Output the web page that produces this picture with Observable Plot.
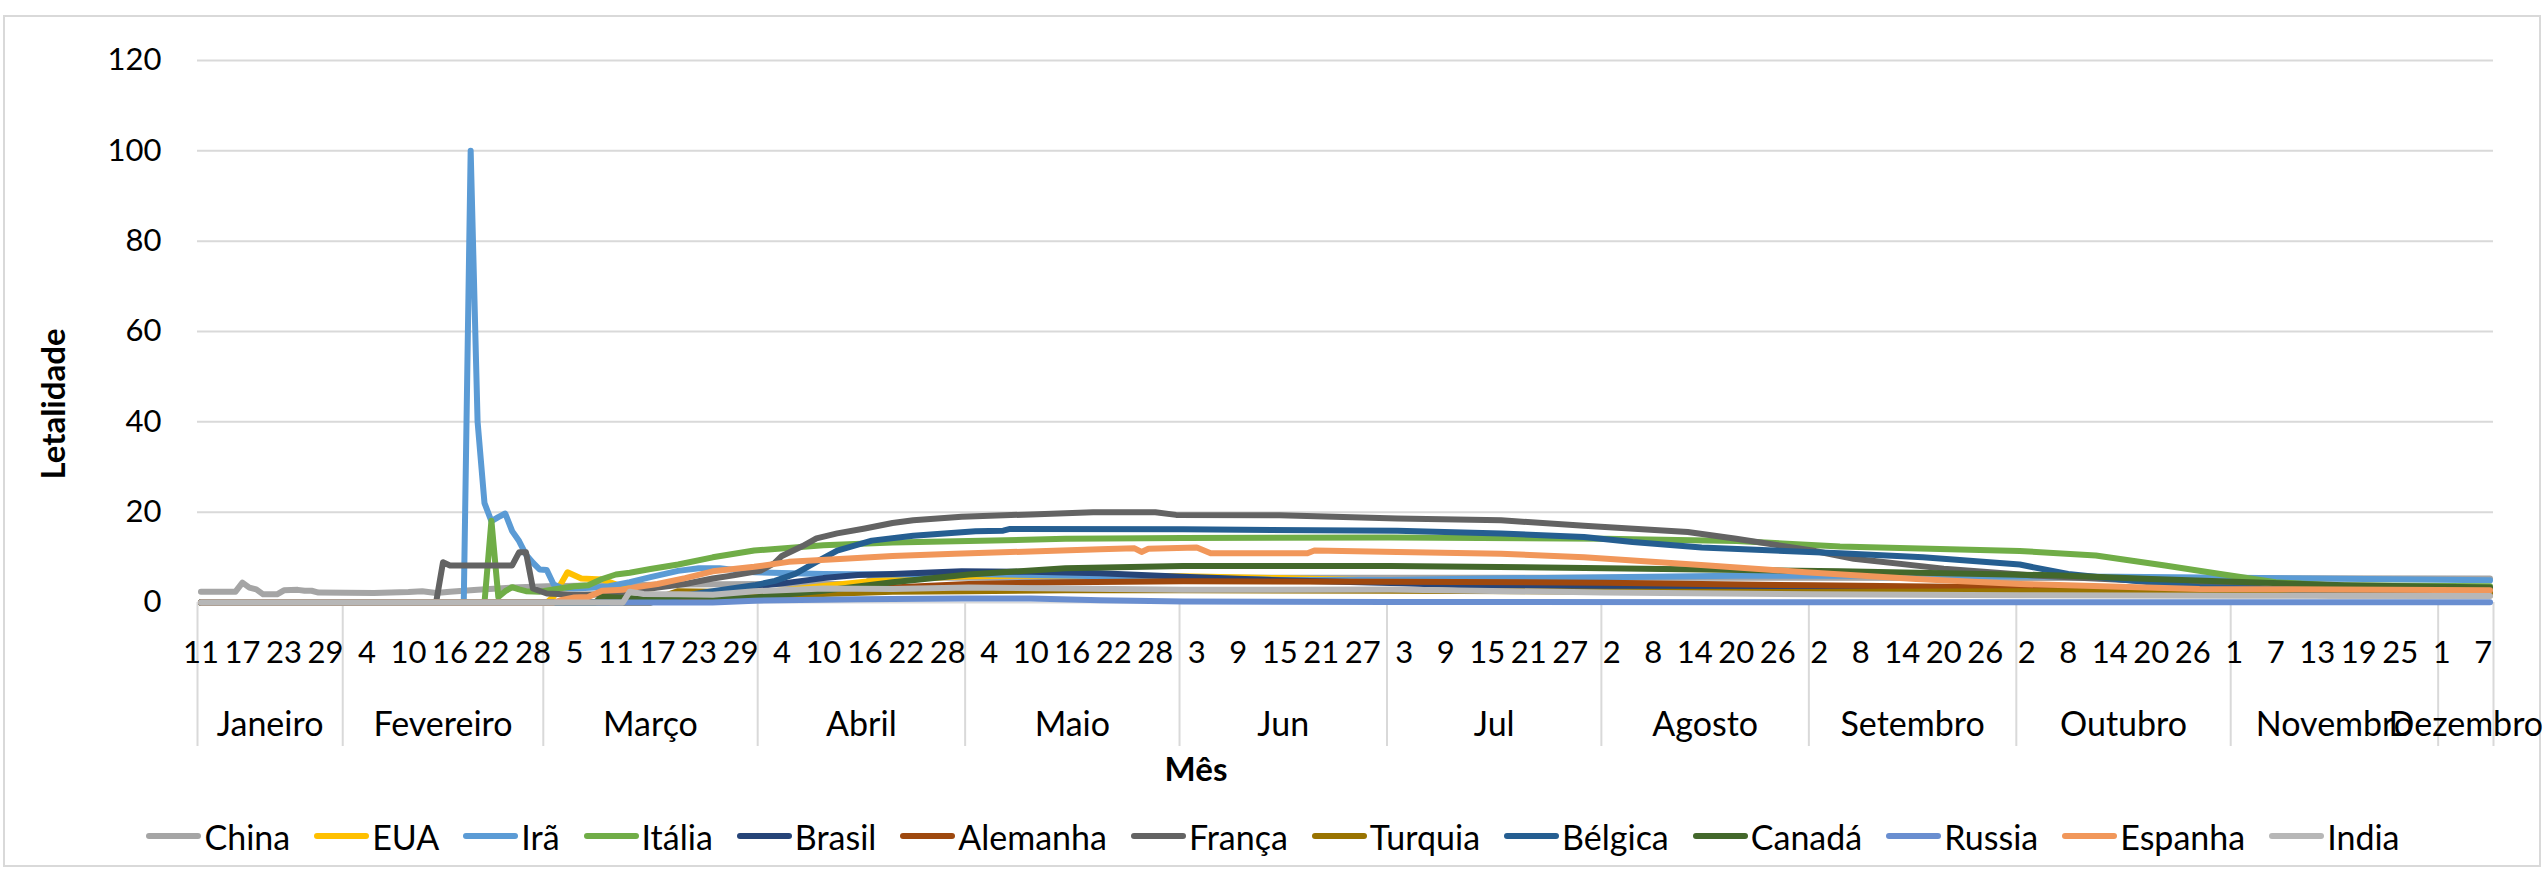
<!DOCTYPE html>
<html><head><meta charset="utf-8">
<script src="https://cdn.jsdelivr.net/npm/d3@7"></script>
<script src="https://cdn.jsdelivr.net/npm/@observablehq/plot@0.6"></script>
<style>
html,body{margin:0;padding:0;background:#fff;}
#chart{position:relative;width:2546px;height:871px;font-family:Lato,sans-serif;overflow:hidden;color:#000;}
#border{position:absolute;left:3px;top:15px;width:2538px;height:852px;border:2px solid #d9d9d9;box-sizing:border-box;}
#plot{position:absolute;left:0;top:0;}
.title{position:absolute;font-weight:bold;font-size:33px;white-space:nowrap;}
#ytitle{left:52px;top:404px;transform:translate(-50%,-50%) rotate(-90deg);}
#xtitle{left:1196px;top:768px;transform:translate(-50%,-50%);}
#legend{position:absolute;left:0;top:814px;width:2546px;height:44px;display:flex;justify-content:center;align-items:center;font-size:34px;}
.item{display:flex;align-items:center;margin:0 12px;}
.sw{display:inline-block;width:55px;height:6px;border-radius:3px;margin-right:3px;}
</style></head>
<body><div id="chart"><div id="border"></div><div id="plot"></div>
<div id="ytitle" class="title">Letalidade</div>
<div id="xtitle" class="title">Mês</div>
<div id="legend"></div></div>
<script>
const countries = ["China","EUA","Irã","Itália","Brasil","Alemanha","França","Turquia","Bélgica","Canadá","Russia","Espanha","India"];
const colors = ["#A5A5A5","#FFC000","#5B9BD5","#70AD47","#264478","#9E480E","#636363","#997300","#255E91","#43682B","#698ED0","#F1975A","#B7B7B7"];
const monthNames = ["Janeiro","Fevereiro","Março","Abril","Maio","Jun","Jul","Agosto","Setembro","Outubro","Novembro","Dezembro"];
const monthLengths = [21,29,31,30,31,30,31,30,30,31,30,8];
const monthFirstDay = [11,1,1,1,1,1,1,1,1,1,1,1];
const dayTickLabels = [11,17,23,29, 4,10,16,22,28, 5,11,17,23,29, 4,10,16,22,28, 4,10,16,22,28, 3,9,15,21,27, 3,9,15,21,27, 2,8,14,20,26, 2,8,14,20,26, 2,8,14,20,26, 1,7,13,19,25, 1,7];
const yTicks = [0,20,40,60,80,100,120];

const china = [["01-11",2.4],["01-16",2.4],["01-17",4.4],["01-18",3.3],["01-19",2.9],["01-20",1.8],["01-22",1.8],["01-23",2.7],["01-25",2.8],["01-26",2.6],["01-27",2.6],["01-28",2.2],["02-05",2.1],["02-10",2.3],["02-12",2.5],["02-14",2.1],["02-16",2.4],["02-20",2.8],["02-25",3.3],["03-01",3.6],["03-10",3.8],["03-20",4.0],["04-01",4.1],["04-16",4.1],["04-17",5.5],["05-01",5.5],["06-01",5.5],["08-01",5.5],["10-01",5.4],["12-08",5.3]];
const eua = [["01-11",0],["03-01",0],["03-02",1.3],["03-04",6.7],["03-06",5.3],["03-09",5.1],["03-11",4.0],["03-13",3.0],["03-15",1.9],["03-18",1.5],["03-22",1.3],["03-26",1.5],["04-01",2.2],["04-06",3.0],["04-11",3.8],["04-16",4.6],["04-21",5.2],["05-01",5.8],["05-15",6.0],["06-01",5.8],["06-15",5.4],["07-01",4.8],["07-15",4.0],["08-01",3.4],["09-01",3.0],["10-01",2.8],["11-01",2.5],["12-08",1.9]];
const ira = [["01-11",0],["02-18",0],["02-19",100],["02-20",40],["02-21",22],["02-22",18],["02-23",18.9],["02-24",19.7],["02-25",15.8],["02-26",13.6],["02-27",10.6],["02-28",8.8],["02-29",7.3],["03-01",7.2],["03-02",4.0],["03-03",3.3],["03-05",3.1],["03-08",3.3],["03-10",3.6],["03-13",4.5],["03-16",5.6],["03-20",7.0],["03-23",7.6],["03-26",7.6],["03-31",6.7],["04-10",6.3],["04-20",6.2],["05-01",6.3],["05-15",6.0],["06-01",5.4],["06-15",5.0],["07-01",5.0],["07-15",5.3],["08-01",5.6],["08-20",5.9],["09-15",5.9],["10-15",5.7],["11-01",5.5],["11-20",5.2],["12-08",4.9]];
const italia = [["01-11",0],["02-21",0],["02-22",18.1],["02-23",1.2],["02-24",2.5],["02-25",3.4],["02-26",2.9],["02-27",2.5],["02-29",2.4],["03-02",2.9],["03-05",3.6],["03-07",3.8],["03-09",5.2],["03-11",6.2],["03-13",6.6],["03-16",7.4],["03-20",8.4],["03-25",10.0],["03-31",11.5],["04-10",12.7],["04-20",13.3],["05-01",13.6],["05-15",14.1],["06-01",14.3],["07-01",14.4],["08-01",14.1],["08-20",13.6],["09-05",12.4],["10-01",11.4],["10-12",10.4],["10-22",8.2],["10-30",6.3],["11-07",4.5],["11-15",3.8],["12-08",3.6]];
const brasil = [["01-11",0],["03-16",0],["03-17",0.3],["03-20",1.2],["03-25",2.3],["03-31",3.5],["04-05",4.4],["04-10",5.4],["04-15",6.1],["04-20",6.3],["04-30",6.9],["05-10",6.8],["05-20",6.5],["06-01",5.7],["06-15",4.9],["07-01",4.3],["07-17",3.6],["08-01",3.4],["09-01",3.1],["10-01",3.0],["11-01",2.9],["12-08",2.7]];
const alemanha = [["01-11",0],["03-08",0],["03-09",0.2],["03-20",0.3],["03-25",0.5],["03-31",1.1],["04-05",1.6],["04-10",2.2],["04-15",2.7],["04-20",3.3],["05-01",4.1],["05-15",4.5],["06-01",4.7],["07-01",4.6],["08-01",4.4],["09-01",3.8],["10-01",3.3],["10-15",2.8],["11-01",2.0],["11-15",1.6],["12-08",1.6]];
const franca = [["01-11",0],["02-14",0],["02-15",8.9],["02-16",8.2],["02-25",8.2],["02-26",11.1],["02-27",11.1],["02-28",3.1],["03-01",2.0],["03-05",1.7],["03-10",1.8],["03-13",2.4],["03-17",3.3],["03-21",4.1],["03-25",5.3],["03-28",6.0],["04-01",7.1],["04-03",8.8],["04-04",10.3],["04-07",12.5],["04-09",14.2],["04-12",15.3],["04-16",16.4],["04-20",17.6],["04-23",18.2],["04-30",19.0],["05-10",19.5],["05-19",20.0],["05-28",20.0],["05-31",19.4],["06-15",19.3],["07-02",18.6],["07-17",18.2],["07-29",17.0],["08-13",15.6],["08-20",14.1],["09-01",11.5],["09-07",9.7],["09-20",7.5],["10-03",6.0],["10-17",4.9],["11-07",3.0],["12-08",2.4]];
const turquia = [["01-11",0],["03-16",0],["03-17",1.0],["03-20",2.5],["03-25",2.4],["03-31",1.6],["04-10",1.9],["04-20",2.4],["05-01",2.5],["05-15",2.7],["06-01",2.7],["07-01",2.6],["08-01",2.4],["09-01",2.3],["10-01",2.5],["11-01",2.6],["11-25",2.3],["12-08",2.1]];
const belgica = [["01-11",0],["03-10",0],["03-11",1.0],["03-15",0.5],["03-20",1.3],["03-24",2.3],["03-31",3.8],["04-03",4.8],["04-06",6.4],["04-09",9.0],["04-12",11.5],["04-17",13.7],["04-23",14.8],["05-02",15.8],["05-06",15.9],["05-07",16.3],["06-01",16.2],["07-02",15.9],["07-17",15.3],["07-29",14.5],["08-05",13.4],["08-15",12.2],["09-05",10.9],["09-17",10.0],["10-01",8.4],["10-08",6.3],["10-15",5.2],["10-27",3.4],["11-10",2.9],["12-08",2.9]];
const canada = [["01-11",0],["03-08",0],["03-09",1.3],["03-15",0.8],["03-20",1.4],["03-31",1.1],["04-10",2.6],["04-20",4.5],["05-01",6.2],["05-15",7.6],["06-01",8.1],["07-01",8.1],["08-01",7.6],["09-05",6.9],["10-07",6.0],["10-20",5.2],["11-01",4.6],["11-17",3.8],["12-08",3.3]];
const russia = [["01-11",0],["03-25",0],["03-31",0.4],["04-15",0.7],["04-30",0.9],["05-10",0.9],["05-20",0.5],["06-01",0.2],["07-01",0.1],["12-08",0.05]];
const espanha = [["01-11",0],["03-02",0],["03-03",0.5],["03-05",1.1],["03-07",1.2],["03-09",2.6],["03-12",2.8],["03-14",3.4],["03-17",4.1],["03-21",5.4],["03-25",6.9],["03-31",7.9],["04-05",9.0],["04-13",9.7],["04-20",10.3],["04-29",10.8],["05-10",11.3],["05-20",11.8],["05-25",12.0],["05-26",11.2],["05-27",11.9],["06-03",12.2],["06-05",10.9],["06-19",10.9],["06-20",11.5],["07-02",11.2],["07-17",10.8],["07-29",10.0],["08-16",8.2],["08-30",6.7],["09-16",5.2],["10-01",4.1],["10-27",3.0],["12-08",2.7]];
const india = [["01-11",0],["03-12",0],["03-13",2.4],["03-15",1.9],["03-20",1.8],["03-25",1.7],["03-31",2.5],["04-10",3.1],["04-20",3.0],["05-01",3.3],["05-15",3.1],["06-01",2.8],["07-01",2.9],["08-01",2.2],["09-01",1.8],["10-01",1.6],["11-01",1.5],["12-08",1.45]];

const seriesValues = [china, eua, ira, italia, brasil, alemanha, franca, turquia, belgica, canada, russia, espanha, india];

const monthStart = [];
monthLengths.reduce((s, n, k) => (monthStart[k] = s, s + n), 0);
const nCat = d3.sum(monthLengths);
const idx = s => { const [m, d] = s.split("-").map(Number); return monthStart[m - 1] + d - monthFirstDay[m - 1]; };

const data = countries.flatMap((c, k) => seriesValues[k].map(([date, v]) => ({c, i: idx(date), v})));

const tickIdx = d3.range(0, nCat, 6);
const tickLabel = new Map(tickIdx.map((t, k) => [t, String(dayTickLabels[k])]));
const monthCenters = monthStart.map((s, k) => s + monthLengths[k] / 2 - 0.5);
const monthLabel = new Map(monthCenters.map((c, k) => [c, monthNames[k]]));
const monthBounds = [...monthStart.map(s => s - 0.5), nCat - 0.5];

const plot = Plot.plot({
  width: 2546, height: 871,
  marginLeft: 197, marginRight: 53, marginTop: 60, marginBottom: 269,
  x: {type: "linear", domain: [-0.5, nCat - 0.5], label: null},
  y: {domain: [0, 120], label: null},
  color: {domain: countries, range: colors},
  style: {fontFamily: "Lato, sans-serif", fontSize: "31px", color: "#000", background: "transparent", overflow: "visible"},
  marks: [
    Plot.ruleY(yTicks, {stroke: "#d9d9d9", strokeWidth: 2, strokeOpacity: 1}),
    Plot.axisY(yTicks, {tickSize: 0, tickPadding: 36, fontSize: 31, label: null, fill: "#000"}),
    Plot.axisX(monthBounds, {tickSize: 144, tickFormat: () => "", stroke: "#d9d9d9", strokeWidth: 2, strokeOpacity: 1, label: null}),
    Plot.axisX(tickIdx, {tickSize: 0, tickPadding: 38, tickFormat: d => tickLabel.get(d), fontSize: 31, label: null, fill: "#000"}),
    Plot.axisX(monthCenters, {tickSize: 0, tickPadding: 109, tickFormat: d => monthLabel.get(d), fontSize: 34, label: null, fill: "#000"}),
    Plot.line(data, {x: "i", y: "v", z: "c", stroke: "c", strokeWidth: 6, strokeLinejoin: "round", strokeLinecap: "round"})
  ]
});
document.getElementById("plot").appendChild(plot);

const legend = document.getElementById("legend");
countries.forEach((c, k) => {
  const it = document.createElement("div"); it.className = "item";
  const sw = document.createElement("span"); sw.className = "sw"; sw.style.background = colors[k];
  const tx = document.createElement("span"); tx.textContent = c;
  it.appendChild(sw); it.appendChild(tx); legend.appendChild(it);
});
</script></body></html>
